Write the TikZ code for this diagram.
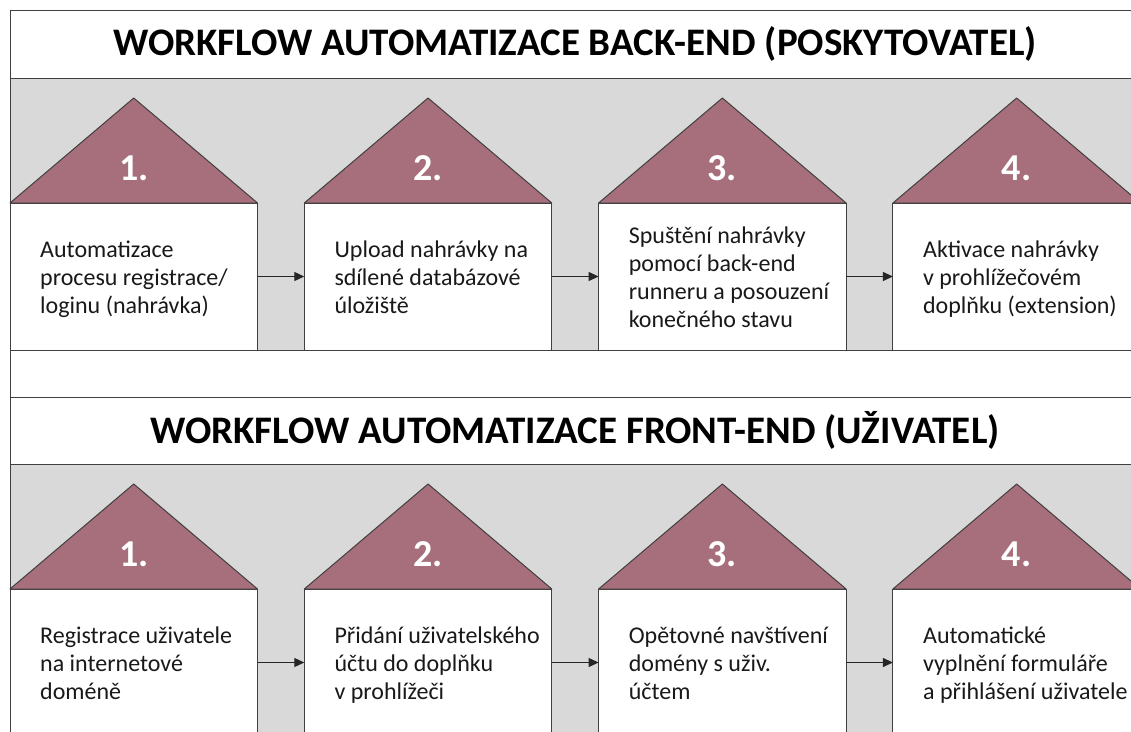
\documentclass[tikz,border=0pt]{standalone}
\usepackage{fontspec}
\setmainfont{Carlito}
\usepackage{tikz}
\usetikzlibrary{arrows.meta,positioning,calc}
\definecolor{roofred}{RGB}{166,111,123}
\definecolor{bandgray}{RGB}{217,217,217}
\definecolor{edgegray}{RGB}{64,64,64}

\begin{document}
\begin{tikzpicture}[x=1pt,y=1pt,node distance=46.8pt,>={Triangle[length=10pt,width=9pt]},
  lane/.style={rectangle,draw=edgegray,line width=1pt,minimum width=1130pt,inner sep=0pt,outer sep=0pt},
  heading/.style={lane,fill=white,font=\fontsize{39}{44}\selectfont\bfseries},
  band/.style={lane,fill=bandgray,minimum height=272pt},
  stepbox/.style={rectangle,draw=edgegray,fill=white,line width=1pt,minimum width=247.5pt,minimum height=147pt,inner sep=0pt,outer sep=0pt},
  steptext/.style={inner sep=0pt,align=left,text=black!90,font=\fontsize{24}{28}\selectfont,
    execute at begin node=\strut,execute at end node=\strut,yshift=-4.5pt},
  roof/.style={draw=edgegray,fill=roofred,line width=1pt,line join=round},
  num/.style={inner sep=0pt,text=white,font=\fontsize{38}{42}\selectfont\bfseries},
  link/.style={->,line width=1pt,draw=black!85}]
\useasboundingbox (0,0) rectangle (1131,-731);
\clip (0,0) rectangle (1131,-731);
% frame: titles and bands
\node (t1) [heading,minimum height=68pt,anchor=north west] at (10,-10) {WORKFLOW AUTOMATIZACE BACK-END (POSKYTOVATEL)};
\node (band1) [band,below=0pt of t1] {};
\node (gap) [lane,fill=white,minimum height=47pt,below=0pt of band1] {};
\node (t2) [heading,minimum height=67pt,below=0pt of gap] {WORKFLOW AUTOMATIZACE FRONT-END (UŽIVATEL)};
\node (band2) [band,below=0pt of t2] {};
% back-end steps
\node (b1) [stepbox,anchor=south west] at (band1.south west) {};
\node (b2) [stepbox,right=of b1] {};
\node (b3) [stepbox,right=of b2] {};
\node (b4) [stepbox,right=of b3] {};
% front-end steps
\node (f1) [stepbox,anchor=south west] at (band2.south west) {};
\node (f2) [stepbox,right=of f1] {};
\node (f3) [stepbox,right=of f2] {};
\node (f4) [stepbox,right=of f3] {};
% roofs with numbers
\foreach \b/\n in {b1/1,b2/2,b3/3,b4/4,f1/1,f2/2,f3/3,f4/4} {
  \draw[roof] (\b.north west) -- ($(\b.north)+(0,105)$) -- (\b.north east) -- cycle;
  \node (\b num) [num,above=22pt of \b.north] {\n.};
}
\node (b1txt) [steptext,right=30pt of b1.west] {Automatizace\\procesu registrace/\\loginu (nahrávka)};
\node (b2txt) [steptext,right=30pt of b2.west] {Upload nahrávky na\\sdílené databázové\\úložiště};
\node (b3txt) [steptext,right=30pt of b3.west] {Spuštění nahrávky\\pomocí back-end\\runneru a posouzení\\konečného stavu};
\node (b4txt) [steptext,right=30pt of b4.west] {Aktivace nahrávky\\v prohlížečovém\\doplňku (extension)};
\node (f1txt) [steptext,right=30pt of f1.west] {Registrace uživatele\\na internetové\\doméně};
\node (f2txt) [steptext,right=30pt of f2.west] {Přidání uživatelského\\účtu do doplňku\\v prohlížeči};
\node (f3txt) [steptext,right=30pt of f3.west] {Opětovné navštívení\\domény s uživ.\\účtem};
\node (f4txt) [steptext,right=30pt of f4.west] {Automatické\\vyplnění formuláře\\a přihlášení uživatele};
\draw[link] (b1) -- (b2);
\draw[link] (b2) -- (b3);
\draw[link] (b3) -- (b4);
\draw[link] (f1) -- (f2);
\draw[link] (f2) -- (f3);
\draw[link] (f3) -- (f4);
\end{tikzpicture}
\end{document}
